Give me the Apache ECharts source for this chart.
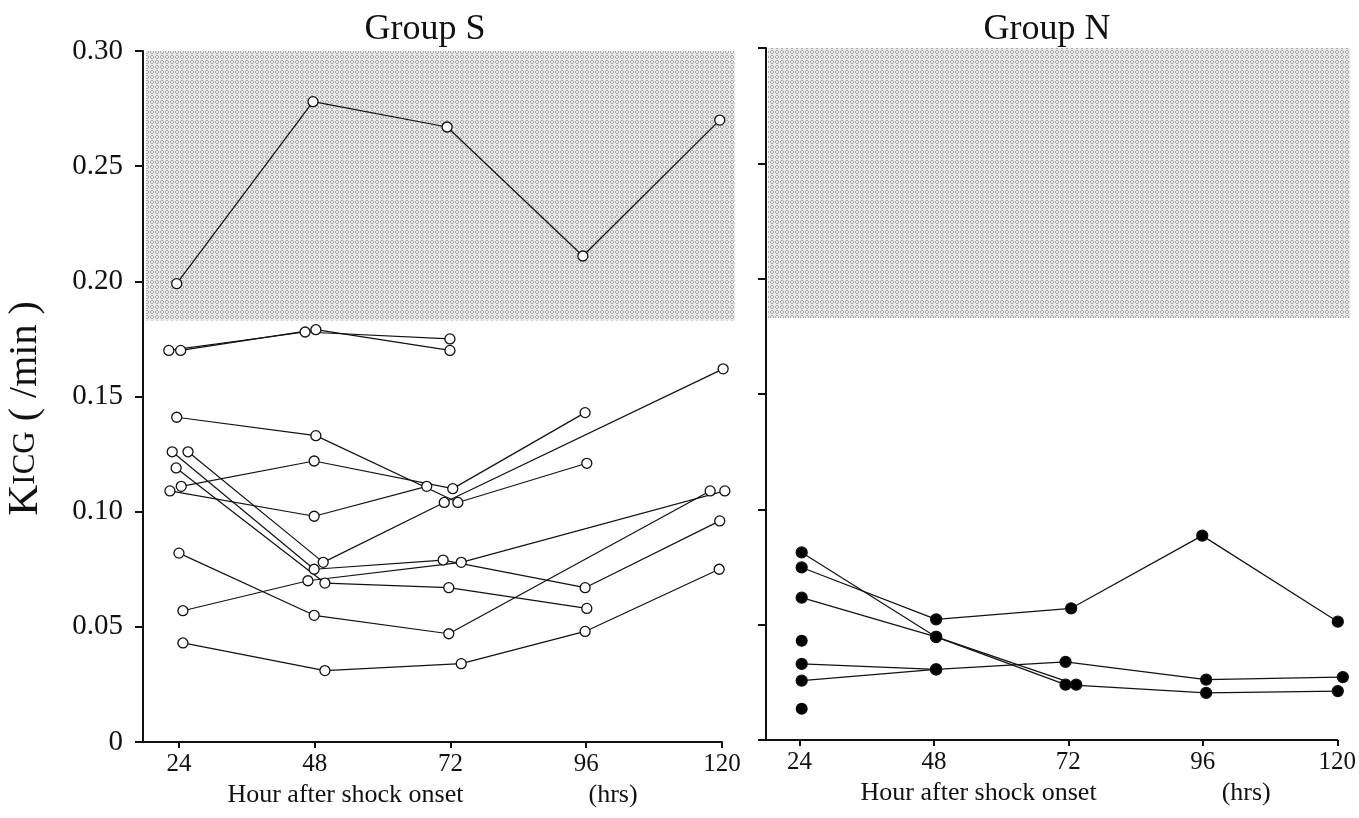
<!DOCTYPE html>
<html>
<head>
<meta charset="utf-8">
<script src="https://cdn.jsdelivr.net/npm/echarts@6/dist/echarts.min.js"></script>
<style>
html, body { margin: 0; padding: 0; background: #fff; }
#chart { width: 1359px; height: 818px; }
</style>
</head>
<body>
<div id="chart"></div>
<script>
// x ticks (hours after shock onset)
var hourTicks = [24, 48, 72, 96, 120]
// shaded normal range of Kicg
var normalRange = [0.183, 0.30]

// Group S, one line per patient: [hour, Kicg /min]
var s1 = [[23.6, 0.199], [47.7, 0.278], [71.4, 0.267], [95.4, 0.211], [119.6, 0.270]]
var s2 = [[22.2, 0.170], [46.3, 0.178], [71.9, 0.175]]
var s3 = [[24.3, 0.170], [48.2, 0.179], [71.9, 0.170]]
var s4 = [[23.6, 0.141], [48.2, 0.133], [73.3, 0.104], [96.1, 0.121]]
var s5 = [[24.4, 0.111], [47.9, 0.122], [72.4, 0.110], [95.8, 0.143]]
var s6 = [[22.4, 0.109], [47.9, 0.098], [67.8, 0.111]]
var s7 = [[25.6, 0.126], [49.5, 0.078], [70.9, 0.104], [120.2, 0.162]]
var s8 = [[22.8, 0.126], [47.9, 0.075], [70.7, 0.079], [95.8, 0.067], [119.6, 0.096]]
var s9 = [[23.5, 0.119], [49.8, 0.069], [71.7, 0.067], [96.1, 0.058]]
var s10 = [[24.7, 0.057], [46.8, 0.070], [73.9, 0.078], [120.5, 0.109]]
var s11 = [[24.0, 0.082], [47.9, 0.055], [71.7, 0.047], [117.9, 0.109]]
var s12 = [[24.7, 0.043], [49.8, 0.031], [73.9, 0.034], [95.8, 0.048], [119.5, 0.075]]
var groupS = [s1, s2, s3, s4, s5, s6, s7, s8, s9, s10, s11, s12]

// Group N
var n1 = [[24.4, 0.0813], [48.4, 0.0447], [71.5, 0.0240], [96.6, 0.0204], [120.1, 0.0212]]
var n2 = [[24.4, 0.0617], [48.4, 0.0447], [73.4, 0.0240]]
var n3 = [[24.4, 0.0748], [48.4, 0.0523], [72.5, 0.0571], [95.9, 0.0886], [120.1, 0.0513]]
var n4 = [[24.4, 0.0330], [48.4, 0.0306], [71.5, 0.0339], [96.6, 0.0262], [121.0, 0.0273]]
var n5 = [[24.4, 0.0257], [48.4, 0.0306]]
var nSingle = [[24.4, 0.0430], [24.4, 0.0135]]
var groupN = [n1, n2, n3, n4, n5]

var serif = 'Liberation Serif'
var ink = '#111'

// stippled grey fill for the normal range
var tile = document.createElement('canvas')
tile.width = 5
tile.height = 5
var g = tile.getContext('2d')
g.fillStyle = '#e8e8e8'
g.fillRect(0, 0, 5, 5)
g.fillStyle = '#aaaaaa'
var ring = [[1, 0], [2, 0], [0, 1], [3, 1], [0, 2], [3, 2], [1, 3], [2, 3]]
ring.forEach(function(p) { g.fillRect(p[0], p[1], 1, 1) })

function xAxisFor(idx, min, shift) {
  return {
    type: 'value',
    gridIndex: idx,
    min: min,
    max: 120,
    splitLine: { show: false },
    axisLine: { lineStyle: { color: ink, width: 2 } },
    axisTick: { customValues: hourTicks, length: 6, lineStyle: { color: ink, width: 2 } },
    axisLabel: { customValues: hourTicks, margin: 10, color: ink, fontFamily: serif, fontSize: 25 },
    name: '{a|Hour after shock onset}{b|(hrs)}',
    nameLocation: 'middle',
    nameGap: 36,
    nameTextStyle: {
      rich: {
        a: { fontFamily: serif, fontSize: 26, color: ink, padding: [0, 0, 0, shift] },
        b: { fontFamily: serif, fontSize: 26, color: ink, padding: [0, 0, 0, 125] }
      }
    }
  }
}

function yAxisFor(idx, labels) {
  return {
    type: 'value',
    gridIndex: idx,
    min: 0,
    max: 0.30,
    interval: 0.05,
    splitLine: { show: false },
    axisLine: { lineStyle: { color: ink, width: 2 } },
    axisTick: { length: 8, lineStyle: { color: ink, width: 2 } },
    axisLabel: {
      show: labels,
      margin: 20,
      color: ink,
      fontFamily: serif,
      fontSize: 29,
      formatter: function(v) { return v === 0 ? '0' : v.toFixed(2) }
    }
  }
}

// shaded band, drawn through the axes but allowed to run a little past them
function shade(idx, x0, x1) {
  return {
    type: 'custom',
    xAxisIndex: idx,
    yAxisIndex: idx,
    data: [[x0, x1, normalRange[0], normalRange[1]]],
    silent: true,
    z: 1,
    renderItem: function(params, api) {
      var a = api.coord([api.value(0), api.value(3)])
      var b = api.coord([api.value(1), api.value(2)])
      return {
        type: 'rect',
        shape: { x: a[0], y: a[1], width: b[0] - a[0], height: b[1] - a[1] },
        style: { fill: { image: tile, repeat: 'repeat' } }
      }
    }
  }
}

function patient(data, idx, filled) {
  return {
    type: 'line',
    xAxisIndex: idx,
    yAxisIndex: idx,
    data: data,
    clip: false,
    silent: true,
    z: 3,
    symbol: 'circle',
    symbolSize: filled ? 11 : 10,
    lineStyle: { color: ink, width: 1.2 },
    itemStyle: { color: filled ? '#000' : '#fff', borderColor: ink, borderWidth: 1.3 }
  }
}

var series = [shade(0, 18.2, 122.3), shade(1, 18.4, 122.3)]
groupS.forEach(function(d) { series.push(patient(d, 0, false)) })
groupN.forEach(function(d) { series.push(patient(d, 1, true)) })
series.push({
  type: 'scatter',
  xAxisIndex: 1,
  yAxisIndex: 1,
  data: nSingle,
  silent: true,
  z: 3,
  symbolSize: 12,
  itemStyle: { color: '#000', opacity: 1 }
})

var chart = echarts.init(document.getElementById('chart'))
var option = {
  animation: false,
  backgroundColor: '#fff',
  title: [
    { text: 'Group S', left: 420, top: 7, textAlign: 'center',
      textStyle: { fontFamily: serif, fontSize: 36, fontWeight: 'normal', color: ink } },
    { text: 'Group N', left: 1042, top: 7, textAlign: 'center',
      textStyle: { fontFamily: serif, fontSize: 36, fontWeight: 'normal', color: ink } }
  ],
  grid: [
    { left: 143, top: 51, width: 579, height: 691 },
    { left: 766, top: 48, width: 574, height: 692 }
  ],
  xAxis: [xAxisFor(0, 17.64, 0), xAxisFor(1, 18.03, 28)],
  yAxis: [
    Object.assign(yAxisFor(0, true), {
      name: '{k|K}{s|ICG}{n| ( /min )}',
      nameLocation: 'middle',
      nameRotate: 90,
      nameGap: 96,
      nameTextStyle: {
        rich: {
          k: { fontFamily: serif, fontSize: 43, color: ink },
          s: { fontFamily: serif, fontSize: 31, color: ink },
          n: { fontFamily: serif, fontSize: 40, color: ink, padding: [0, 24, 0, 0] }
        }
      }
    }),
    yAxisFor(1, false)
  ],
  series: series
}
chart.setOption(option)
</script>
</body>
</html>
